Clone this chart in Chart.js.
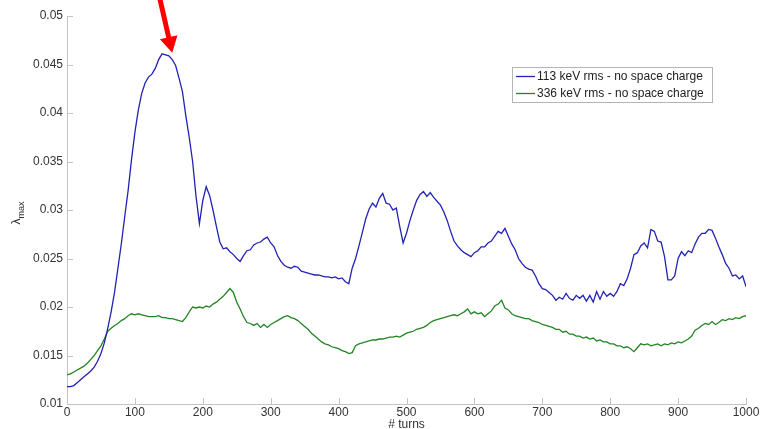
<!DOCTYPE html>
<html>
<head>
<meta charset="utf-8">
<script src="https://cdn.jsdelivr.net/npm/chart.js@4/dist/chart.umd.min.js"></script>
<style>
  html, body { margin: 0; padding: 0; background: #ffffff; }
  #wrap { width: 769px; height: 429px; position: relative; }
</style>
</head>
<body>
<div id="wrap"><canvas id="c" width="769" height="429"></canvas></div>
<script>
// ---- data ----
const turns = Array.from({length: 201}, (_, i) => i * 5);

const blueLabel = "113 keV rms - no space charge";
const blueValues = [
0.0118,0.0118,0.0119,0.0122,0.0125,0.0128,0.0131,0.0134,0.0138,0.0144,
0.0152,0.0163,0.0178,0.0195,0.0215,0.0240,0.0265,0.0293,0.0320,0.0352,
0.0380,0.0403,0.0420,0.0431,0.0437,0.0440,0.0446,0.0455,0.0461,0.0460,
0.0459,0.0455,0.0449,0.0436,0.0422,0.0397,0.0375,0.0350,0.0314,0.0286,
0.0310,0.0324,0.0315,0.0300,0.0283,0.0267,0.0260,0.0261,0.0257,0.0254,
0.0250,0.0247,0.0253,0.0258,0.0259,0.0264,0.0266,0.0267,0.0270,0.0272,
0.0266,0.0262,0.0253,0.0247,0.0243,0.0241,0.0240,0.0242,0.0241,0.0237,
0.0236,0.0235,0.0234,0.0233,0.0233,0.0232,0.0231,0.0231,0.0230,0.0231,
0.0229,0.0230,0.0226,0.0224,0.0240,0.0250,0.0263,0.0277,0.0291,0.0301,
0.0307,0.0303,0.0312,0.0317,0.0307,0.0306,0.0300,0.0302,0.0283,0.0266,
0.0276,0.0289,0.0300,0.0310,0.0316,0.0319,0.0314,0.0318,0.0313,0.0309,
0.0305,0.0298,0.0289,0.0278,0.0268,0.0263,0.0259,0.0256,0.0254,0.0252,
0.0256,0.0258,0.0262,0.0262,0.0266,0.0268,0.0273,0.0278,0.0276,0.0281,
0.0273,0.0265,0.0259,0.0250,0.0245,0.0241,0.0239,0.0238,0.0232,0.0224,
0.0219,0.0218,0.0215,0.0212,0.0207,0.0210,0.0208,0.0214,0.0209,0.0207,
0.0212,0.0209,0.0212,0.0206,0.0212,0.0205,0.0216,0.0208,0.0216,0.0211,
0.0214,0.0211,0.0216,0.0224,0.0222,0.0229,0.0240,0.0254,0.0256,0.0263,
0.0266,0.0261,0.0280,0.0278,0.0268,0.0267,0.0252,0.0228,0.0228,0.0232,
0.0250,0.0257,0.0253,0.0258,0.0256,0.0265,0.0272,0.0276,0.0276,0.0280,
0.0279,0.0271,0.0262,0.0254,0.0245,0.0240,0.0232,0.0233,0.0229,0.0232,
0.0221
];

const greenLabel = "336 keV rms - no space charge";
const greenValues = [
0.0130,0.0131,0.0133,0.0135,0.0137,0.0139,0.0142,0.0146,0.0150,0.0155,
0.0160,0.0167,0.0175,0.0178,0.0181,0.0183,0.0186,0.0188,0.0191,0.0193,
0.0192,0.0193,0.0192,0.0191,0.0190,0.0190,0.0190,0.0191,0.0189,0.0189,
0.0188,0.0188,0.0187,0.0186,0.0185,0.0189,0.0195,0.0200,0.0199,0.0200,
0.0199,0.0201,0.0200,0.0203,0.0205,0.0208,0.0211,0.0215,0.0219,0.0215,
0.0205,0.0198,0.0190,0.0184,0.0183,0.0181,0.0183,0.0179,0.0182,0.0179,
0.0182,0.0184,0.0186,0.0188,0.0190,0.0191,0.0189,0.0188,0.0186,0.0183,
0.0180,0.0177,0.0173,0.0170,0.0167,0.0164,0.0162,0.0161,0.0159,0.0158,
0.0157,0.0155,0.0154,0.0152,0.0153,0.0160,0.0162,0.0163,0.0164,0.0165,
0.0166,0.0166,0.0167,0.0167,0.0168,0.0169,0.0169,0.0170,0.0169,0.0171,
0.0173,0.0174,0.0175,0.0177,0.0178,0.0179,0.0181,0.0184,0.0186,0.0187,
0.0188,0.0189,0.0190,0.0191,0.0192,0.0191,0.0193,0.0195,0.0198,0.0193,
0.0195,0.0193,0.0194,0.0190,0.0193,0.0196,0.0201,0.0203,0.0207,0.0199,
0.0197,0.0193,0.0191,0.0190,0.0189,0.0188,0.0188,0.0186,0.0185,0.0184,
0.0182,0.0181,0.0180,0.0179,0.0177,0.0177,0.0174,0.0175,0.0172,0.0172,
0.0170,0.0170,0.0168,0.0169,0.0167,0.0168,0.0165,0.0166,0.0164,0.0164,
0.0162,0.0162,0.0160,0.0160,0.0158,0.0159,0.0157,0.0154,0.0158,0.0162,
0.0161,0.0162,0.0160,0.0161,0.0162,0.0160,0.0162,0.0161,0.0163,0.0162,
0.0164,0.0163,0.0165,0.0167,0.0170,0.0176,0.0178,0.0181,0.0183,0.0182,
0.0185,0.0182,0.0184,0.0187,0.0186,0.0188,0.0187,0.0189,0.0188,0.0190,
0.0191
];

const xTitle = "# turns";
const yTitleMain = "λ";
const yTitleSub = "max";
// arrow annotation, in data coordinates (turns, value)
const arrowTail = [137, 0.0517];
const arrowTip = [155, 0.0462];

// ---- styles ----
const BLUE = '#2222b4';
const GREEN = '#238523';
const AXIS = '#c4c4c4';
const TEXT = '#333333';
const FONT = "'Liberation Sans', Arial, sans-serif";

const toPts = vals => vals.map((v, i) => ({x: turns[i], y: v}));

const decorPlugin = {
  id: 'decor',
  afterDraw(chart) {
    const ctx = chart.ctx;
    const xs = chart.scales.x, ys = chart.scales.y;
    const area = chart.chartArea;
    ctx.save();
    // inward ticks
    ctx.strokeStyle = AXIS;
    ctx.lineWidth = 1;
    ys.ticks.forEach(t => {
      const py = Math.round(ys.getPixelForValue(t.value)) + 0.5;
      ctx.beginPath(); ctx.moveTo(area.left, py); ctx.lineTo(area.left + 6, py); ctx.stroke();
    });
    xs.ticks.forEach(t => {
      const px = Math.round(xs.getPixelForValue(t.value)) + 0.5;
      ctx.beginPath(); ctx.moveTo(px, area.bottom); ctx.lineTo(px, area.bottom - 6); ctx.stroke();
    });

    // y title with subscript
    ctx.translate(20, (area.top + area.bottom) / 2 + 3);
    ctx.rotate(-Math.PI / 2);
    ctx.fillStyle = TEXT;
    ctx.textBaseline = 'alphabetic';
    ctx.font = '12px ' + FONT;
    const w1 = ctx.measureText(yTitleMain).width;
    ctx.font = '9px ' + FONT;
    const w2 = ctx.measureText(yTitleSub).width;
    const start = -(w1 + w2) / 2;
    ctx.font = '12px ' + FONT;
    ctx.fillText(yTitleMain, start, 0);
    ctx.font = '9px ' + FONT;
    ctx.fillText(yTitleSub, start + w1, 4);
    ctx.restore();

    // legend box
    ctx.save();
    const lx = 512, ly = 67, lw = 200, lh = 35;
    ctx.fillStyle = '#ffffff';
    ctx.fillRect(lx, ly, lw, lh);
    ctx.strokeStyle = '#b4b4b4';
    ctx.lineWidth = 1;
    ctx.strokeRect(lx + 0.5, ly + 0.5, lw, lh);
    ctx.font = '12px ' + FONT;
    ctx.textBaseline = 'middle';
    chart.data.datasets.forEach((ds, i) => {
      const yy = ly + 9 + i * 17;
      ctx.strokeStyle = ds.borderColor;
      ctx.lineWidth = 1.3;
      ctx.beginPath(); ctx.moveTo(lx + 4, yy + 0.5); ctx.lineTo(lx + 23, yy + 0.5); ctx.stroke();
      ctx.fillStyle = '#222222';
      ctx.fillText(ds.label, lx + 25, yy + 1);
    });
    ctx.restore();

    // red arrow
    ctx.save();
    const tx = xs.getPixelForValue(arrowTail[0]), ty = ys.getPixelForValue(arrowTail[1]);
    const hx = xs.getPixelForValue(arrowTip[0]), hy = ys.getPixelForValue(arrowTip[1]);
    const ang = Math.atan2(hy - ty, hx - tx);
    const headLen = 16, headHalf = 9;
    const bx = hx - headLen * Math.cos(ang), by = hy - headLen * Math.sin(ang);
    ctx.strokeStyle = '#ff0000';
    ctx.fillStyle = '#ff0000';
    ctx.lineWidth = 5;
    ctx.lineCap = 'butt';
    ctx.beginPath(); ctx.moveTo(tx, ty); ctx.lineTo(bx + 2 * Math.cos(ang), by + 2 * Math.sin(ang)); ctx.stroke();
    ctx.beginPath();
    ctx.moveTo(hx, hy);
    ctx.lineTo(bx - headHalf * Math.sin(ang), by + headHalf * Math.cos(ang));
    ctx.lineTo(bx + headHalf * Math.sin(ang), by - headHalf * Math.cos(ang));
    ctx.closePath();
    ctx.fill();
    ctx.restore();
  }
};

new Chart(document.getElementById('c'), {
  type: 'line',
  data: {
    datasets: [
      { label: blueLabel, data: toPts(blueValues), borderColor: BLUE, borderWidth: 1.3,
        pointRadius: 0, fill: false, tension: 0 },
      { label: greenLabel, data: toPts(greenValues), borderColor: GREEN, borderWidth: 1.3,
        pointRadius: 0, fill: false, tension: 0 }
    ]
  },
  options: {
    responsive: false,
    animation: false,
    events: [],
    layout: { padding: { top: 16, right: 23, left: 0, bottom: 0 } },
    plugins: { legend: { display: false }, tooltip: { enabled: false } },
    scales: {
      x: {
        type: 'linear', min: 0, max: 1000,
        ticks: { stepSize: 100, color: TEXT, font: { family: FONT, size: 12 }, padding: 1, maxRotation: 0,
                 callback: v => String(v) },
        grid: { display: true, drawOnChartArea: false, drawTicks: false },
        border: { color: AXIS, width: 1 },
        title: { display: true, text: xTitle, color: TEXT, font: { family: FONT, size: 12 }, padding: { top: 0, bottom: -3 } },
        afterFit: s => { s.height = 25; }
      },
      y: {
        min: 0.01, max: 0.05,
        ticks: { stepSize: 0.005, color: TEXT, font: { family: FONT, size: 12 }, padding: 4,
                 callback: v => String(Number(v.toFixed(3))) },
        grid: { display: true, drawOnChartArea: false, drawTicks: false },
        border: { color: AXIS, width: 1 },
        afterFit: s => { s.width = 67; }
      }
    }
  },
  plugins: [decorPlugin]
});
</script>
</body>
</html>
